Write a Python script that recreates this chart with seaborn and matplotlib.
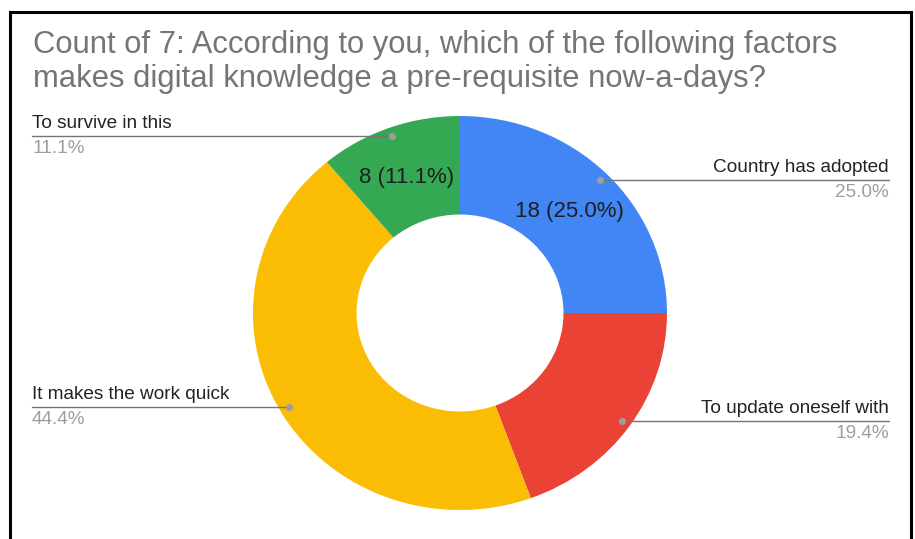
import matplotlib
matplotlib.use("Agg")
import matplotlib.pyplot as plt
from matplotlib.patches import Rectangle
import numpy as np
import seaborn as sns

# Survey responses for question 7
categories = ["Country has adopted", "To update oneself with",
              "It makes the work quick", "To survive in this"]
counts = [18, 14, 32, 8]
show_inner = [True, False, False, True]
title = ("Count of 7: According to you, which of the following factors\n"
         "makes digital knowledge a pre-requisite now-a-days?")

sns.set_theme(style="white")
plt.rcParams["font.family"] = ["Liberation Sans", "DejaVu Sans"]
palette = sns.color_palette(["#4285F4", "#EA4335", "#FBBC04", "#34A853"])

W, H = 915, 539
fig = plt.figure(figsize=(W / 100, H / 100), dpi=100)
fig.patch.set_facecolor("white")

# donut axes (slightly wider than tall)
cx, cy, rx, ry = 460, 313, 207, 197
ax = fig.add_axes([(cx - rx) / W, (H - cy - ry) / H, 2 * rx / W, 2 * ry / H])
wedges, _ = ax.pie(counts, colors=palette, startangle=90, counterclock=False,
                   radius=1.0, wedgeprops=dict(width=0.5, linewidth=0))
ax.set_aspect("auto")
ax.set_xlim(-1, 1)
ax.set_ylim(-1, 1)
ax.axis("off")

total = sum(counts)
line_right = (889 - cx) / rx
line_left = (32 - cx) / rx
for w, name, n, inner in zip(wedges, categories, counts, show_inner):
    mid = np.deg2rad((w.theta1 + w.theta2) / 2)
    pct = 100 * n / total
    if inner:
        ax.annotate(f"{n} ({pct:.1f}%)", (0.75 * np.cos(mid), 0.75 * np.sin(mid)),
                    xytext=(0, -2.5), textcoords="offset points",
                    ha="center", va="center", fontsize=16, color="#1f1f1f")
    dx, dy = 0.955 * np.cos(mid), 0.955 * np.sin(mid)
    ax.plot([dx], [dy], "o", ms=4, color="#9e9e9e", clip_on=False, zorder=5)
    end = line_right if dx > 0 else line_left
    ha = "right" if dx > 0 else "left"
    ax.plot([dx, end], [dy, dy], color="#757575", lw=1, clip_on=False, zorder=4)
    ax.annotate(name, (end, dy), xytext=(0, 3), textcoords="offset points",
                ha=ha, va="bottom", fontsize=13.7, color="#222222",
                annotation_clip=False)
    ax.annotate(f"{pct:.1f}%", (end, dy), xytext=(0, -3),
                textcoords="offset points", ha=ha, va="top", fontsize=13.7,
                color="#9e9e9e", annotation_clip=False)

fig.text(33 / W, 1 - 30 / H, title, ha="left", va="top", fontsize=22.3,
         color="#757575", linespacing=1.18)

# outer frame
fig.add_artist(Rectangle((10 / W, -0.05), (911 - 10) / W, 1 - 12 / H + 0.05,
                         transform=fig.transFigure, fill=False,
                         edgecolor="black", linewidth=2.2))

fig.savefig("out.png", dpi=100)
